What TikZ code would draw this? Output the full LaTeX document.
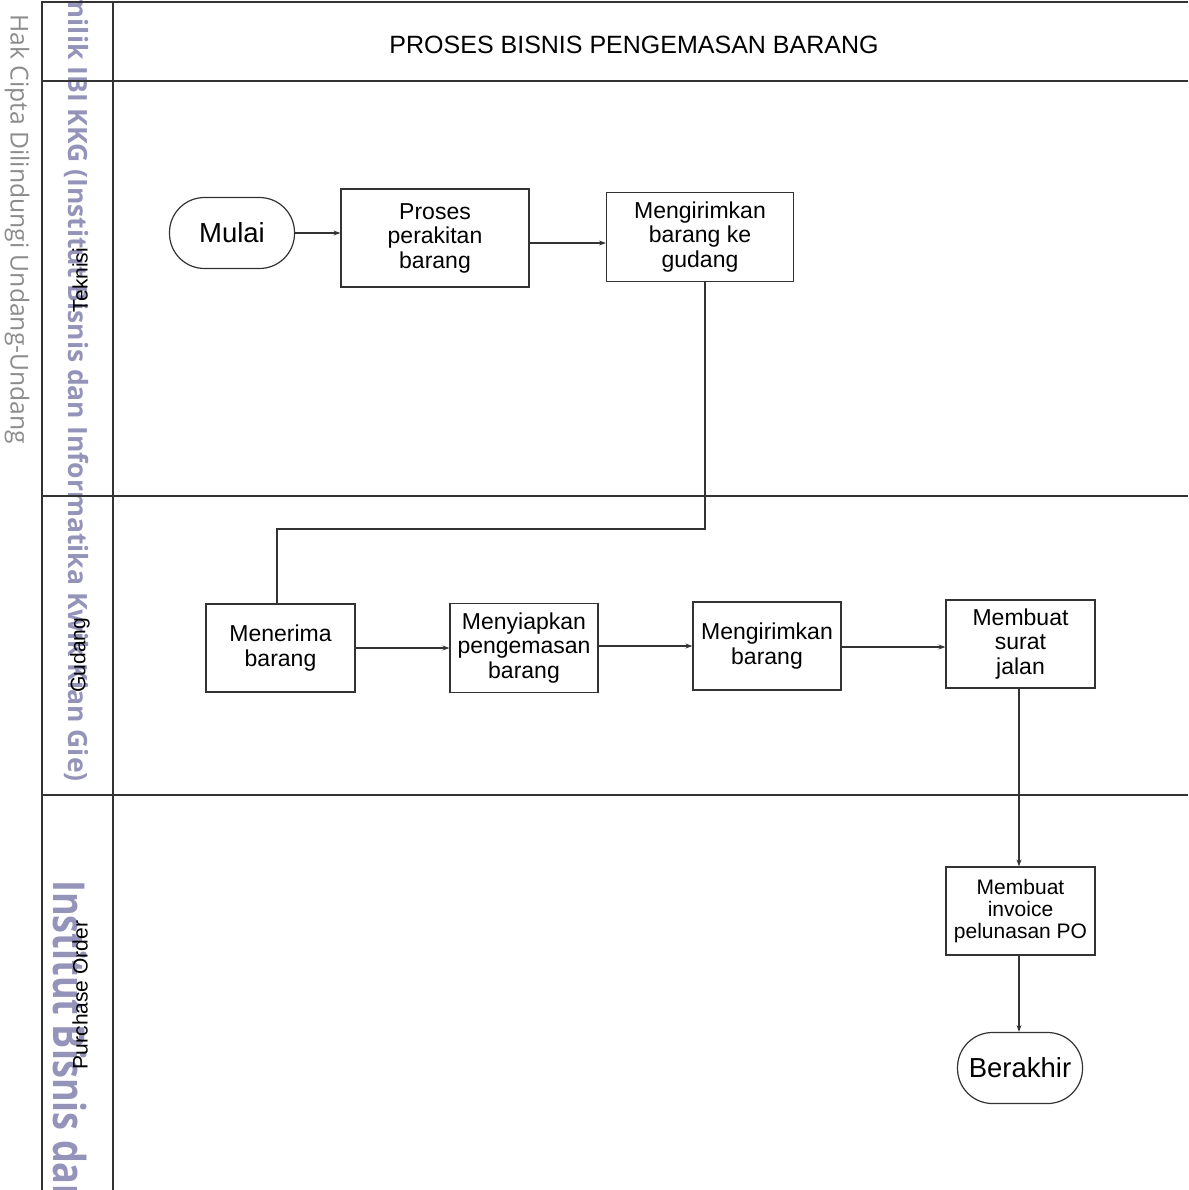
\documentclass[tikz,border=0pt]{standalone}
\usepackage{fontspec}
\setmainfont{Liberation Sans}
\newfontfamily\wmfont{Open Sans}
\usetikzlibrary{arrows.meta}
\definecolor{linec}{HTML}{333333}
\definecolor{wmblue}{HTML}{9494BA}
\definecolor{wmgrey}{HTML}{8C8C8C}
\tikzset{
  lane/.style={draw=linec, line width=1.3pt},
  proc/.style={draw=linec, line width=1.2pt, fill=white, align=center, inner sep=2pt,
               font=\fontsize{23}{24.5}\selectfont},
  term/.style={draw=linec, line width=1.2pt, fill=white, rounded corners=35pt,
               font=\fontsize{27.5}{30}\selectfont, minimum width=125pt, minimum height=71pt},
  flow/.style={draw=linec, line width=1.2pt, -{Stealth[length=7pt,width=5pt]}},
  plain/.style={draw=linec, line width=1.2pt},
  lanelabel/.style={rotate=90, font=\fontsize{21}{23}\selectfont},
}
\begin{document}
\begin{tikzpicture}[x=1pt,y=-1pt]
\useasboundingbox (0,0) rectangle (1188,1190);
% watermarks
\begin{scope}
\clip (0,0) rectangle (1188,1190);
\node[rotate=-90, anchor=west, inner sep=0pt, text=wmgrey, font=\wmfont\fontsize{24.7}{26}\selectfont] (wm1) at (17,14) {Hak Cipta Dilindungi Undang-Undang};
\node[rotate=-90, anchor=east, inner sep=0pt, text=wmblue, font=\wmfont\bfseries\fontsize{26.5}{28}\selectfont] (wm2) at (77,782) {milik IBI KKG (Institut Bisnis dan Informatika Kwik Kian Gie)};
\node[rotate=-90, anchor=west, inner sep=0pt, text=wmblue, font=\wmfont\bfseries\fontsize{44}{46}\selectfont] (wm3) at (70,880) {\scalebox{0.82}[1]{Institut Bisnis dan Informatika}};
\end{scope}
% frame
\draw[lane] (42,1190) -- (42,2) -- (1188,2);
\draw[lane] (113,2) -- (113,1190);
\draw[lane] (42,81) -- (1188,81);
\draw[lane] (42,496) -- (1188,496);
\draw[lane] (42,795) -- (1188,795);
\node[font=\fontsize{25}{27}\selectfont] (title) at (634,45) {PROSES BISNIS PENGEMASAN BARANG};
\node[lanelabel] (l1) at (80,280) {Teknisi};
\node[lanelabel] (l2) at (80,655) {Gudang};
\node[lanelabel] (l3) at (80,995) {Purchase Order};
% nodes
\node[term] (mulai) at (232,233) {Mulai};
\node[proc, minimum width=188pt, minimum height=98pt] (proses) at (435,238) {\raisebox{-2pt}{}Proses\\perakitan\\barang};
\node[proc, minimum width=187pt, minimum height=89pt] (kirim1) at (700,237) {Mengirimkan\\barang ke\\gudang};
\node[proc, minimum width=149pt, minimum height=88pt] (terima) at (280.5,648) {Menerima\\barang};
\node[proc, minimum width=148pt, minimum height=89pt] (siap) at (524,648) {Menyiapkan\\pengemasan\\barang};
\node[proc, minimum width=148pt, minimum height=88pt] (kirim2) at (767,646) {Mengirimkan\\barang};
\node[proc, minimum width=149pt, minimum height=88pt] (surat) at (1020.5,644) {Membuat\\surat\\jalan};
\node[proc, minimum width=149pt, minimum height=88pt, font=\fontsize{21}{22}\selectfont] (invoice) at (1020.5,911) {Membuat\\invoice\\pelunasan PO};
\node[term] (akhir) at (1020,1068) {Berakhir};
% connectors
\draw[flow] (mulai.east) -- (mulai.east -| proses.west);
\coordinate (p1) at (529,243);
\draw[flow] (p1) -- (p1 -| kirim1.west);
\coordinate (b1) at (705,529);
\coordinate (b2) at (277,529);
\draw[plain] (kirim1.south -| b1) -- (b1) -- (b2) -- (b2 |- terima.north);
\draw[flow] (terima.east) -- (terima.east -| siap.west);
\coordinate (p2) at (598,646);
\draw[flow] (p2) -- (p2 -| kirim2.west);
\coordinate (p3) at (841,647);
\draw[flow] (p3) -- (p3 -| surat.west);
\coordinate (p4) at (1019,688);
\draw[flow] (p4) -- (p4 |- invoice.north);
\coordinate (p5) at (1019,955);
\draw[flow] (p5) -- (p5 |- akhir.north);
\end{tikzpicture}
\end{document}
